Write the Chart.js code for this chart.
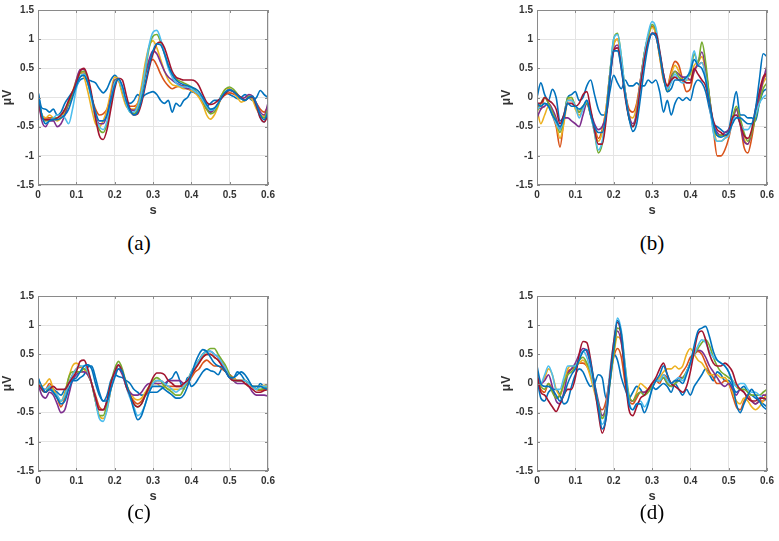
<!DOCTYPE html>
<html>
<head>
<meta charset="utf-8">
<script src="https://cdn.jsdelivr.net/npm/chart.js@4.4.0/dist/chart.umd.min.js"></script>
<style>
  html, body { margin: 0; padding: 0; background: #ffffff; }
  #wrap { position: relative; width: 779px; height: 541px; overflow: hidden; background: #fff; }
  .pc { position: absolute; width: 280px; height: 225px; }
  .cap { position: absolute; font-family: "Liberation Serif", "Times New Roman", serif; font-size: 21px; color: #000; transform: translate(-50%, -50%); white-space: nowrap; }
</style>
</head>
<body>
<div id="wrap">
  <div class="pc" style="left:0px;top:0px;"><canvas id="ca" width="280" height="225"></canvas></div>
  <div class="pc" style="left:499px;top:0px;"><canvas id="cb" width="280" height="225"></canvas></div>
  <div class="pc" style="left:0px;top:286px;"><canvas id="cc" width="280" height="225"></canvas></div>
  <div class="pc" style="left:499px;top:286px;"><canvas id="cd" width="280" height="225"></canvas></div>
  <div class="cap" style="left:139px;top:243px;">(a)</div>
  <div class="cap" style="left:652px;top:243px;">(b)</div>
  <div class="cap" style="left:139px;top:512px;">(c)</div>
  <div class="cap" style="left:652px;top:512px;">(d)</div>
</div>
<script>
// ---- shared axis data ----
const times = [0,0.01,0.02,0.03,0.04,0.05,0.06,0.07,0.08,0.09,
  0.1,0.11,0.12,0.13,0.14,0.15,0.16,0.17,0.18,0.19,
  0.2,0.21,0.22,0.23,0.24,0.25,0.26,0.27,0.28,0.29,
  0.3,0.31,0.32,0.33,0.34,0.35,0.36,0.37,0.38,0.39,
  0.4,0.41,0.42,0.43,0.44,0.45,0.46,0.47,0.48,0.49,
  0.5,0.51,0.52,0.53,0.54,0.55,0.56,0.57,0.58,0.59,0.6];
const xTicks = [0, 0.1, 0.2, 0.3, 0.4, 0.5, 0.6];
const yTicks = [-1.5, -1, -0.5, 0, 0.5, 1, 1.5];
const xTitle = "s";
const yTitle = "\u03BCV";
const panelLabels = ["(a)", "(b)", "(c)", "(d)"];

// ---- panel (a) ----
const a_blue1 = [0.1,-0.18,-0.2,-0.25,-0.2,-0.3,-0.25,-0.1,0.0,0.1,
 0.2,0.3,0.33,0.3,0.28,0.25,0.15,0.08,0.15,0.3,
 0.38,0.3,0.1,-0.05,-0.1,-0.05,0.05,0.0,0.05,0.08,
 0.1,0.05,-0.05,-0.1,-0.05,-0.25,-0.1,-0.15,-0.05,0.0,
 0.1,0.08,0.05,-0.1,-0.15,-0.1,-0.05,-0.05,0.05,0.08,
 0.05,0.02,-0.02,0.0,0.05,0.0,-0.05,0.0,0.12,0.05,0.0];
const a_orange = [0.0,-0.3,-0.35,-0.35,-0.35,-0.38,-0.35,-0.25,-0.1,0.05,
 0.25,0.42,0.42,0.25,0.0,-0.2,-0.3,-0.28,-0.2,0.0,
 0.25,0.3,0.1,-0.1,-0.15,-0.15,-0.1,0.1,0.4,0.6,
 0.65,0.55,0.4,0.28,0.2,0.15,0.18,0.2,0.2,0.15,
 0.12,0.08,0.02,-0.1,-0.2,-0.25,-0.2,-0.1,0.0,0.05,
 0.08,0.06,0.02,-0.02,-0.05,0.02,0.0,-0.1,-0.2,-0.25,-0.15];
const a_yellow = [0.0,-0.3,-0.35,-0.3,-0.35,-0.4,-0.35,-0.25,-0.1,0.1,
 0.3,0.45,0.35,0.1,-0.2,-0.45,-0.5,-0.4,-0.2,0.1,
 0.35,0.3,0.05,-0.15,-0.2,-0.2,-0.1,0.2,0.6,0.88,
 0.97,0.85,0.65,0.45,0.3,0.22,0.2,0.18,0.15,0.15,
 0.12,0.08,0.0,-0.12,-0.3,-0.37,-0.3,-0.15,0.05,0.15,
 0.15,0.1,0.0,-0.08,-0.05,0.0,-0.05,-0.2,-0.3,-0.32,-0.2];
const a_purple = [0.0,-0.4,-0.5,-0.4,-0.4,-0.5,-0.45,-0.3,-0.1,0.05,
 0.3,0.48,0.48,0.3,0.0,-0.3,-0.45,-0.45,-0.3,0.0,
 0.3,0.32,0.15,-0.1,-0.2,-0.22,-0.15,0.1,0.4,0.65,
 0.8,0.75,0.6,0.45,0.35,0.3,0.25,0.22,0.18,0.15,
 0.15,0.1,0.05,-0.05,-0.18,-0.25,-0.2,-0.1,0.0,0.1,
 0.14,0.1,0.05,-0.02,0.0,0.05,0.02,-0.1,-0.25,-0.3,-0.1];
const a_green = [0.0,-0.3,-0.4,-0.38,-0.35,-0.35,-0.3,-0.22,-0.1,0.05,
 0.25,0.42,0.45,0.3,0.0,-0.35,-0.55,-0.6,-0.45,-0.1,
 0.25,0.32,0.15,-0.1,-0.25,-0.28,-0.2,0.05,0.45,0.85,
 1.05,1.08,0.95,0.75,0.55,0.4,0.32,0.28,0.25,0.22,
 0.18,0.12,0.05,-0.05,-0.2,-0.28,-0.25,-0.12,0.05,0.15,
 0.18,0.14,0.06,-0.02,-0.05,0.02,0.0,-0.15,-0.3,-0.35,-0.2];
const a_cyan = [0.0,-0.3,-0.45,-0.4,-0.35,-0.3,-0.3,-0.35,-0.45,-0.2,
 0.15,0.35,0.4,0.25,-0.05,-0.35,-0.5,-0.55,-0.4,-0.05,
 0.25,0.3,0.15,-0.1,-0.25,-0.25,-0.15,0.1,0.5,0.9,
 1.12,1.15,1.0,0.75,0.5,0.35,0.25,0.2,0.18,0.18,
 0.15,0.1,0.05,-0.05,-0.15,-0.22,-0.2,-0.1,0.02,0.1,
 0.13,0.1,0.04,-0.02,-0.05,0.0,0.0,-0.15,-0.35,-0.42,-0.25];
const a_darkred = [0.05,-0.35,-0.38,-0.38,-0.38,-0.35,-0.3,-0.2,-0.05,0.1,
 0.25,0.45,0.5,0.35,0.05,-0.35,-0.65,-0.72,-0.55,-0.2,
 0.15,0.33,0.3,0.05,-0.2,-0.3,-0.28,-0.1,0.2,0.5,
 0.75,0.92,0.95,0.85,0.65,0.45,0.35,0.32,0.3,0.3,
 0.3,0.28,0.2,0.05,-0.08,-0.12,-0.1,-0.05,0.0,0.08,
 0.12,0.1,0.05,0.0,-0.05,0.0,0.0,-0.15,-0.35,-0.42,-0.3];
const a_blue2 = [0.1,-0.3,-0.45,-0.4,-0.38,-0.38,-0.35,-0.3,-0.2,0.0,
 0.2,0.35,0.38,0.25,0.0,-0.25,-0.4,-0.4,-0.3,-0.05,
 0.2,0.32,0.2,-0.05,-0.22,-0.3,-0.25,-0.05,0.25,0.55,
 0.8,0.92,0.9,0.75,0.55,0.4,0.3,0.25,0.22,0.2,
 0.18,0.15,0.1,0.0,-0.12,-0.2,-0.18,-0.1,0.02,0.1,
 0.13,0.1,0.04,-0.02,-0.05,0.0,0.02,-0.12,-0.3,-0.38,-0.25];

// ---- panel (b) ----
const b_blue1 = [0.0,0.25,0.05,-0.05,0.14,0.0,-0.4,-0.3,0.0,0.05,
 0.1,-0.05,0.0,0.2,0.3,0.05,-0.2,-0.3,-0.3,0.1,
 0.38,0.25,0.15,0.3,0.2,0.2,0.25,0.2,0.2,0.3,
 0.25,0.3,0.1,-0.25,-0.05,-0.3,-0.1,0.0,-0.05,0.0,
 -0.05,0.2,0.3,0.25,0.1,-0.2,-0.45,-0.5,-0.55,-0.6,
 -0.55,-0.2,0.1,-0.3,-0.3,-0.35,-0.35,-0.4,-0.1,0.1,0.15];
const b_orange = [-0.1,-0.2,0.0,-0.1,-0.3,-0.5,-0.85,-0.4,-0.05,-0.05,
 -0.15,-0.25,-0.15,-0.1,-0.3,-0.5,-0.7,-0.55,-0.2,0.4,
 0.9,1.0,0.6,0.1,-0.2,-0.25,-0.1,0.3,0.75,1.05,
 1.22,1.1,0.7,0.3,0.2,0.45,0.62,0.55,0.3,0.1,
 0.15,0.45,0.55,0.6,0.4,-0.1,-0.55,-1.0,-1.0,-0.9,
 -0.7,-0.4,-0.2,-0.45,-0.85,-0.95,-0.7,-0.3,0.0,0.3,0.4];
const b_yellow = [-0.2,-0.45,-0.3,-0.15,-0.25,-0.45,-0.7,-0.45,-0.05,0.0,
 -0.2,-0.3,-0.2,-0.1,-0.3,-0.55,-0.75,-0.6,-0.2,0.4,
 0.9,1.0,0.6,0.05,-0.3,-0.35,-0.15,0.3,0.75,1.05,
 1.2,1.1,0.7,0.35,0.2,0.4,0.55,0.45,0.3,0.3,
 0.3,0.55,0.6,0.7,0.45,0.0,-0.5,-0.75,-0.75,-0.7,
 -0.6,-0.35,-0.2,-0.4,-0.7,-0.8,-0.6,-0.3,0.0,0.25,0.35];
const b_purple = [-0.35,-0.2,-0.15,-0.1,-0.2,-0.35,-0.55,-0.35,-0.35,-0.4,
 -0.45,-0.5,-0.3,-0.1,-0.25,-0.45,-0.55,-0.5,-0.3,0.3,
 0.8,0.9,0.55,0.1,-0.3,-0.45,-0.25,0.3,0.7,0.95,
 1.1,1.05,0.75,0.4,0.15,0.35,0.45,0.4,0.35,0.35,
 0.3,0.45,0.6,0.78,0.5,0.0,-0.45,-0.6,-0.65,-0.6,
 -0.55,-0.4,-0.2,-0.45,-0.75,-0.8,-0.6,-0.3,0.0,0.3,0.55];
const b_green = [-0.25,-0.1,0.0,-0.1,-0.25,-0.4,-0.6,-0.35,0.0,0.0,
 -0.15,-0.25,-0.15,-0.1,-0.3,-0.6,-0.95,-0.8,-0.3,0.4,
 1.0,1.1,0.7,0.1,-0.35,-0.5,-0.3,0.25,0.75,1.05,
 1.25,1.15,0.75,0.35,0.1,0.3,0.45,0.35,0.3,0.35,
 0.4,0.75,0.6,0.95,0.6,0.0,-0.5,-0.65,-0.65,-0.65,
 -0.6,-0.35,-0.15,-0.35,-0.6,-0.75,-0.6,-0.35,-0.1,0.15,0.25];
const b_cyan = [-0.2,-0.15,-0.1,-0.15,-0.3,-0.45,-0.55,-0.35,-0.05,-0.05,
 -0.15,-0.35,-0.2,-0.05,-0.3,-0.6,-0.9,-0.75,-0.3,0.4,
 1.0,1.08,0.7,0.1,-0.35,-0.5,-0.3,0.25,0.75,1.1,
 1.3,1.2,0.8,0.4,0.15,0.25,0.4,0.3,0.25,0.3,
 0.5,0.8,0.55,0.6,0.35,-0.1,-0.6,-0.75,-0.75,-0.7,
 -0.65,-0.4,-0.3,-0.45,-0.55,-0.55,-0.45,-0.3,-0.1,0.0,0.05];
const b_darkred = [-0.1,-0.1,0.0,-0.05,-0.1,-0.2,-0.45,-0.3,-0.1,-0.1,
 -0.15,-0.1,0.05,0.1,-0.2,-0.55,-0.8,-0.8,-0.4,0.3,
 0.8,0.85,0.5,0.0,-0.35,-0.5,-0.3,0.2,0.65,0.95,
 1.1,1.1,0.8,0.4,0.2,0.3,0.35,0.3,0.3,0.25,
 0.25,0.5,0.4,0.3,0.2,-0.1,-0.4,-0.55,-0.6,-0.65,
 -0.6,-0.35,-0.3,-0.45,-0.65,-0.7,-0.55,-0.2,0.1,0.35,0.42];
const b_blue2 = [-0.1,-0.15,-0.1,-0.15,-0.3,-0.4,-0.5,-0.35,-0.1,-0.15,
 -0.15,-0.2,-0.15,-0.05,-0.3,-0.5,-0.6,-0.6,-0.3,0.3,
 0.8,0.8,0.5,0.05,-0.35,-0.58,-0.45,0.0,0.5,0.9,
 1.1,1.05,0.75,0.35,0.1,0.15,0.3,0.3,0.3,0.35,
 0.45,0.65,0.55,0.5,0.3,-0.1,-0.45,-0.65,-0.68,-0.65,
 -0.6,-0.45,-0.35,-0.35,-0.4,-0.45,-0.45,-0.2,0.3,0.75,0.7];

// ---- panel (c) ----
const c_blue1 = [0.1,-0.1,-0.15,-0.05,-0.1,-0.15,-0.2,-0.1,0.0,0.05,
 0.05,0.1,0.15,0.28,0.3,0.1,-0.15,-0.3,-0.2,0.05,
 0.15,0.12,0.1,0.05,0.0,-0.1,-0.15,-0.2,-0.2,-0.15,
 -0.15,-0.15,-0.1,-0.05,0.05,0.1,0.2,0.05,-0.1,0.1,
 -0.05,0.0,0.1,0.2,0.25,0.22,0.2,0.15,0.25,0.2,
 0.1,0.1,0.2,0.15,0.05,0.0,-0.05,-0.1,0.0,-0.05,-0.05];
const c_orange = [0.05,-0.1,-0.1,0.0,-0.1,-0.25,-0.4,-0.25,0.0,0.15,
 0.25,0.28,0.25,0.15,0.0,-0.2,-0.4,-0.45,-0.4,-0.1,
 0.15,0.3,0.2,0.0,-0.2,-0.3,-0.35,-0.3,-0.2,-0.1,
 0.0,0.05,0.05,0.0,-0.05,-0.05,-0.05,-0.05,-0.05,0.0,
 0.1,0.2,0.25,0.35,0.4,0.35,0.3,0.3,0.25,0.2,
 0.15,0.1,0.05,0.05,0.05,0.0,-0.05,-0.1,-0.12,-0.1,-0.1];
const c_yellow = [0.05,-0.05,0.0,0.08,-0.1,-0.2,-0.3,-0.15,0.1,0.3,
 0.35,0.3,0.25,0.15,0.0,-0.3,-0.55,-0.6,-0.45,-0.1,
 0.2,0.3,0.2,0.0,-0.15,-0.25,-0.28,-0.25,-0.15,-0.05,
 0.0,0.0,-0.05,-0.05,-0.1,-0.1,-0.1,-0.1,-0.05,0.05,
 0.15,0.25,0.35,0.45,0.5,0.5,0.45,0.4,0.35,0.25,
 0.15,0.1,0.05,0.05,0.0,-0.05,-0.05,-0.05,-0.05,-0.03,-0.02];
const c_purple = [0.0,-0.2,-0.25,-0.15,-0.2,-0.35,-0.5,-0.45,-0.2,0.05,
 0.15,0.2,0.2,0.15,0.0,-0.25,-0.45,-0.45,-0.3,-0.05,
 0.15,0.25,0.15,-0.05,-0.15,-0.2,-0.2,-0.15,-0.05,0.0,
 0.0,0.0,0.0,0.0,0.05,0.05,0.05,0.05,0.0,0.05,
 0.15,0.3,0.4,0.5,0.55,0.55,0.5,0.45,0.35,0.25,
 0.15,0.05,0.0,0.0,0.0,-0.05,-0.15,-0.2,-0.2,-0.2,-0.22];
const c_green = [0.05,-0.1,-0.15,-0.05,-0.15,-0.25,-0.3,-0.2,0.1,0.2,
 0.2,0.2,0.25,0.2,0.0,-0.3,-0.55,-0.55,-0.35,0.0,
 0.25,0.38,0.25,0.0,-0.2,-0.35,-0.4,-0.35,-0.2,-0.05,
 0.05,0.1,0.05,-0.05,-0.1,-0.15,-0.2,-0.2,-0.1,0.05,
 0.2,0.3,0.4,0.5,0.55,0.6,0.6,0.5,0.4,0.3,
 0.15,0.05,0.05,0.05,0.05,0.0,-0.05,-0.1,-0.1,-0.08,-0.05];
const c_cyan = [0.05,-0.1,-0.1,-0.05,-0.15,-0.2,-0.3,-0.2,0.0,0.15,
 0.25,0.3,0.3,0.2,0.0,-0.3,-0.6,-0.65,-0.45,-0.1,
 0.2,0.3,0.2,-0.05,-0.25,-0.4,-0.55,-0.5,-0.35,-0.15,
 0.0,0.05,0.05,0.0,-0.05,-0.1,-0.15,-0.1,-0.05,0.05,
 0.2,0.3,0.4,0.5,0.55,0.55,0.5,0.45,0.35,0.25,
 0.1,0.05,0.05,0.05,0.05,0.0,-0.05,-0.1,-0.05,-0.05,-0.05];
const c_darkred = [0.0,-0.1,-0.15,-0.1,-0.05,-0.1,-0.1,-0.1,0.0,0.1,
 0.2,0.38,0.4,0.25,0.0,-0.25,-0.45,-0.45,-0.3,0.0,
 0.2,0.32,0.2,-0.05,-0.2,-0.35,-0.4,-0.35,-0.2,-0.05,
 0.1,0.18,0.18,0.15,0.05,0.0,-0.05,-0.05,0.0,0.05,
 0.15,0.25,0.35,0.45,0.5,0.5,0.45,0.4,0.3,0.2,
 0.1,0.05,0.05,0.05,0.0,-0.05,-0.1,-0.15,-0.15,-0.12,-0.1];
const c_blue2 = [0.1,-0.05,-0.15,-0.1,-0.15,-0.25,-0.35,-0.3,-0.1,0.05,
 0.1,0.2,0.3,0.32,0.25,0.0,-0.2,-0.3,-0.3,-0.1,
 0.1,0.25,0.2,0.0,-0.2,-0.45,-0.62,-0.55,-0.35,-0.15,
 -0.05,-0.05,-0.05,-0.1,-0.15,-0.2,-0.25,-0.25,-0.2,-0.05,
 0.15,0.35,0.5,0.58,0.55,0.45,0.35,0.3,0.28,0.2,
 0.1,0.1,0.15,0.2,0.15,0.05,-0.05,-0.05,-0.05,-0.08,-0.1];

// ---- panel (d) ----
const d_blue1 = [0.1,-0.25,-0.3,-0.15,-0.1,-0.1,-0.2,-0.35,-0.3,-0.05,
 0.15,0.25,0.2,0.05,-0.05,0.0,0.15,0.1,-0.25,0.1,
 0.5,0.4,0.1,-0.1,-0.25,-0.15,-0.05,-0.1,-0.2,-0.1,
 -0.05,-0.1,-0.05,0.0,-0.05,-0.15,0.0,-0.1,-0.2,-0.1,
 -0.2,-0.05,0.05,0.15,0.25,0.15,0.05,0.2,0.15,0.05,
 0.05,-0.05,-0.15,-0.1,-0.05,-0.15,-0.2,-0.25,-0.3,-0.35,-0.4];
const d_orange = [0.1,-0.1,-0.15,0.0,-0.1,-0.25,-0.2,0.0,0.2,0.25,
 0.3,0.35,0.35,0.3,0.15,-0.1,-0.35,-0.45,-0.3,0.1,
 0.45,0.6,0.45,0.0,-0.3,-0.35,-0.25,-0.15,-0.15,-0.1,
 0.0,0.05,0.0,0.15,0.1,0.0,0.05,0.1,0.2,0.3,
 0.45,0.5,0.55,0.5,0.35,0.2,0.1,0.0,0.0,0.05,
 0.0,-0.2,-0.4,-0.45,-0.3,-0.2,-0.3,-0.35,-0.3,-0.3,-0.25];
const d_yellow = [0.1,0.0,0.1,0.25,0.15,-0.1,-0.2,0.0,0.25,0.3,
 0.3,0.35,0.4,0.3,0.1,-0.15,-0.4,-0.6,-0.4,0.0,
 0.5,0.8,0.7,0.2,-0.25,-0.3,-0.15,0.0,-0.05,-0.1,
 -0.05,0.05,0.1,0.2,0.25,0.25,0.3,0.25,0.3,0.5,
 0.6,0.5,0.4,0.35,0.25,0.15,0.15,0.15,0.1,0.1,
 0.0,-0.15,-0.3,-0.35,-0.25,-0.3,-0.4,-0.45,-0.4,-0.3,-0.15];
const d_purple = [0.1,0.0,0.05,0.15,-0.05,-0.3,-0.35,-0.15,0.15,0.25,
 0.35,0.5,0.6,0.55,0.3,0.0,-0.3,-0.55,-0.4,0.1,
 0.6,0.9,0.7,0.2,-0.25,-0.3,-0.2,-0.15,-0.15,-0.1,
 -0.05,0.05,0.05,0.1,0.0,-0.05,0.0,0.1,0.1,0.2,
 0.35,0.5,0.57,0.55,0.45,0.3,0.2,0.1,0.0,-0.05,
 0.0,-0.1,-0.2,-0.1,-0.15,-0.25,-0.3,-0.35,-0.3,-0.2,-0.2];
const d_green = [0.1,-0.05,-0.1,0.0,-0.15,-0.25,-0.2,0.0,0.15,0.2,
 0.3,0.4,0.45,0.35,0.2,-0.05,-0.35,-0.6,-0.45,0.0,
 0.5,0.95,0.85,0.3,-0.2,-0.3,-0.2,-0.15,-0.2,-0.15,
 -0.05,0.05,0.05,0.1,0.0,-0.05,0.0,0.05,0.1,0.2,
 0.35,0.5,0.6,0.7,0.75,0.65,0.45,0.3,0.2,0.15,
 0.1,0.05,-0.05,-0.1,-0.1,-0.15,-0.2,-0.2,-0.2,-0.15,-0.1];
const d_cyan = [0.1,0.0,0.15,0.3,0.15,-0.1,-0.1,0.1,0.3,0.3,
 0.3,0.45,0.55,0.45,0.2,-0.1,-0.4,-0.7,-0.5,0.2,
 0.7,1.12,0.9,0.3,-0.3,-0.45,-0.35,-0.3,-0.4,-0.3,
 -0.1,0.05,0.05,0.15,0.05,0.0,0.05,0.1,0.05,0.2,
 0.35,0.5,0.65,0.75,0.7,0.55,0.45,0.4,0.35,0.3,
 0.2,0.05,-0.05,0.0,0.0,-0.1,-0.15,-0.15,-0.2,-0.25,-0.3];
const d_darkred = [0.2,-0.15,-0.2,-0.3,-0.4,-0.48,-0.35,-0.2,-0.1,-0.1,
 0.1,0.5,0.72,0.7,0.4,-0.05,-0.5,-0.85,-0.6,0.1,
 0.7,1.05,0.8,0.1,-0.45,-0.55,-0.4,-0.25,-0.2,-0.1,
 0.0,0.1,0.25,0.35,0.15,0.0,-0.05,-0.1,-0.15,-0.05,
 0.2,0.55,0.85,0.9,0.75,0.5,0.35,0.3,0.3,0.35,
 0.3,0.2,0.0,-0.1,-0.15,-0.25,-0.3,-0.3,-0.25,-0.25,-0.28];
const d_blue2 = [0.3,0.0,-0.05,-0.05,-0.1,-0.2,-0.3,-0.2,0.0,0.15,
 0.25,0.4,0.55,0.58,0.35,0.0,-0.4,-0.78,-0.6,0.0,
 0.6,1.08,0.85,0.2,-0.35,-0.45,-0.35,-0.35,-0.5,-0.35,
 -0.1,0.05,0.15,0.3,0.15,0.0,0.05,0.05,0.0,0.15,
 0.35,0.65,0.9,0.95,0.98,0.8,0.55,0.4,0.35,0.3,
 0.2,0.0,-0.35,-0.5,-0.35,-0.2,-0.1,-0.2,-0.3,-0.4,-0.45];

// MATLAB default colour order (8th wraps to first)
const seriesColors = ['#0072BD','#D95319','#EDB120','#7E2F8E','#77AC30','#4DBEEE','#A2142F','#0072BD'];

const panels = [
  { id: 'ca', series: [a_blue1, a_orange, a_yellow, a_purple, a_green, a_cyan, a_darkred, a_blue2] },
  { id: 'cb', series: [b_blue1, b_orange, b_yellow, b_purple, b_green, b_cyan, b_darkred, b_blue2] },
  { id: 'cc', series: [c_blue1, c_orange, c_yellow, c_purple, c_green, c_cyan, c_darkred, c_blue2] },
  { id: 'cd', series: [d_blue1, d_orange, d_yellow, d_purple, d_green, d_cyan, d_darkred, d_blue2] }
];

const boxPlugin = {
  id: 'box',
  afterDatasetsDraw(chart) {
    const a = chart.chartArea, ctx = chart.ctx;
    ctx.save();
    ctx.strokeStyle = '#8a8a8a';
    ctx.lineWidth = 1;
    ctx.strokeRect(Math.round(a.left) + 0.5, Math.round(a.top) + 0.5, Math.round(a.right - a.left) - 1, Math.round(a.bottom - a.top) - 1);
    // small inward tick marks along bottom and left (MATLAB style)
    const xs = chart.scales.x, ys = chart.scales.y;
    ctx.beginPath();
    xTicks.forEach(v => { const px = Math.round(xs.getPixelForValue(v)) + 0.5; ctx.moveTo(px, a.bottom); ctx.lineTo(px, a.bottom - 3); ctx.moveTo(px, a.top); ctx.lineTo(px, a.top + 3); });
    yTicks.forEach(v => { const py = Math.round(ys.getPixelForValue(v)) + 0.5; ctx.moveTo(a.left, py); ctx.lineTo(a.left + 3, py); ctx.moveTo(a.right, py); ctx.lineTo(a.right - 3, py); });
    ctx.stroke();
    ctx.restore();
  }
};

const tickFont = { family: 'Liberation Sans, Arial, sans-serif', size: 10, weight: 'bold' };

panels.forEach(p => {
  const datasets = p.series.map((vals, i) => ({
    data: times.map((t, k) => ({ x: t, y: vals[k] })),
    borderColor: seriesColors[i],
    borderWidth: 1.6,
    pointRadius: 0,
    fill: false,
    cubicInterpolationMode: 'monotone',
    order: 8 - i
  }));
  new Chart(document.getElementById(p.id), {
    type: 'line',
    data: { datasets },
    options: {
      responsive: false,
      animation: false,
      events: [],
      layout: { padding: { top: 10, right: 12, left: 0, bottom: 0 } },
      plugins: { legend: { display: false }, tooltip: { enabled: false } },
      scales: {
        x: {
          type: 'linear', min: 0, max: 0.6,
          afterBuildTicks: s => { s.ticks = xTicks.map(v => ({ value: v })); },
          afterFit: s => { s.height = 40; },
          ticks: { font: tickFont, color: '#333333', padding: 4, maxRotation: 0, autoSkip: false,
                   callback: v => String(v) },
          grid: { color: '#e4e4e4', lineWidth: 1, drawTicks: false },
          border: { display: false },
          title: { display: true, text: xTitle, color: '#333333',
                   font: { family: 'Liberation Sans, Arial, sans-serif', size: 13, weight: 'bold' },
                   padding: { top: 0, bottom: 7 } }
        },
        y: {
          type: 'linear', min: -1.5, max: 1.5,
          afterBuildTicks: s => { s.ticks = yTicks.map(v => ({ value: v })); },
          afterFit: s => { s.width = 38; },
          ticks: { font: tickFont, color: '#333333', padding: 4, autoSkip: false,
                   callback: v => String(v) },
          grid: { color: '#e4e4e4', lineWidth: 1, drawTicks: false },
          border: { display: false },
          title: { display: true, text: yTitle, color: '#333333',
                   font: { family: 'Liberation Sans, Arial, sans-serif', size: 12, weight: 'bold' },
                   padding: { top: 0, bottom: 3 } }
        }
      }
    },
    plugins: [boxPlugin]
  });
});
</script>
</body>
</html>
